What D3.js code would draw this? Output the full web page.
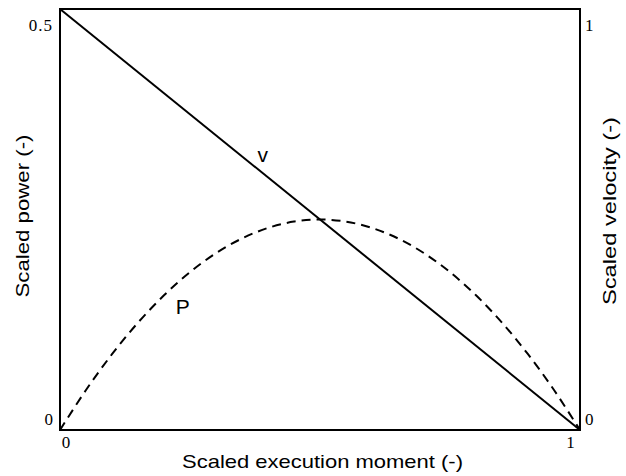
<!DOCTYPE html>
<html>
<head>
<meta charset="utf-8">
<script src="https://cdn.jsdelivr.net/npm/d3@7"></script>
<style>
  html, body { margin: 0; padding: 0; background: #fff; }
  svg { display: block; }
</style>
</head>
<body>
<svg id="chart" width="626" height="476"></svg>
<script>
// Scaled execution moment (x) samples and the scaled power along them
const moment = [0, 0.05, 0.1, 0.15, 0.2, 0.25, 0.3, 0.35, 0.4, 0.45, 0.5,
                0.55, 0.6, 0.65, 0.7, 0.75, 0.8, 0.85, 0.9, 0.95, 1];
const power = [0, 0.0475, 0.09, 0.1275, 0.16, 0.1875, 0.21, 0.2275, 0.24, 0.2475, 0.25,
               0.2475, 0.24, 0.2275, 0.21, 0.1875, 0.16, 0.1275, 0.09, 0.0475, 0];
// Scaled velocity falls linearly from 1 to 0
const velMoment = [0, 1];
const velocity = [1, 0];

// Axis ticks
const xTicks = [0, 1];
const powerTicks = [0, 0.5];
const velocityTicks = [0, 1];

// Curve labels: [moment, value]
const vLabel = { text: "v", m: 0.39, val: 0.655 };
const pLabel = { text: "P", m: 0.236, val: 0.147 };

const svg = d3.select("#chart");
const L = 60, R = 580, T = 9, B = 430;

const x = d3.scaleLinear().domain([0, 1]).range([L, R]);
const yP = d3.scaleLinear().domain([0, 0.5]).range([B, T]);
const yV = d3.scaleLinear().domain([0, 1]).range([B, T]);

const tickFont = "'Liberation Serif', 'Times New Roman', serif";
const sansFont = "'Liberation Sans', Arial, sans-serif";

// Frame
svg.append("rect")
  .attr("x", L).attr("y", T).attr("width", R - L).attr("height", B - T)
  .attr("fill", "none").attr("stroke", "#000").attr("stroke-width", 2);

function styleAxis(g) {
  g.select(".domain").remove();
  g.selectAll(".tick line").remove();
  g.selectAll("text")
    .attr("font-family", tickFont)
    .attr("font-size", 17)
    .attr("fill", "#000");
}

// Bottom axis
svg.append("g")
  .attr("transform", `translate(0,${B})`)
  .call(d3.axisBottom(x).tickValues(xTicks).tickSize(0).tickPadding(0).tickFormat(d3.format("d")))
  .call(styleAxis)
  .call(g => g.selectAll("text")
    .attr("dy", null).attr("y", 18)
    .attr("dx", d => d === 0 ? 5.5 : -10));

// Left axis (power)
svg.append("g")
  .attr("transform", `translate(${L},0)`)
  .call(d3.axisLeft(yP).tickValues(powerTicks).tickSize(0).tickPadding(7)
    .tickFormat(d => d === 0 ? "0" : "0.5"))
  .call(styleAxis)
  .call(g => g.selectAll("text")
    .attr("dy", null)
    .attr("y", d => d === 0 ? -6 : 21)
    .attr("letter-spacing", d => d === 0 ? null : 1));

// Right axis (velocity)
svg.append("g")
  .attr("transform", `translate(${R},0)`)
  .call(d3.axisRight(yV).tickValues(velocityTicks).tickSize(0).tickPadding(5).tickFormat(d3.format("d")))
  .call(styleAxis)
  .call(g => g.selectAll("text")
    .attr("dy", null)
    .attr("y", d => d === 0 ? -6 : 21));

// Power curve (dashed)
const pLine = d3.line()
  .x((d, i) => x(moment[i]))
  .y(d => yP(d))
  .curve(d3.curveCatmullRom);
svg.append("path")
  .datum(power)
  .attr("d", pLine)
  .attr("fill", "none")
  .attr("stroke", "#000")
  .attr("stroke-width", 2)
  .attr("stroke-dasharray", "9,6");

// Velocity line (solid)
const vLine = d3.line()
  .x((d, i) => x(velMoment[i]))
  .y(d => yV(d));
svg.append("path")
  .datum(velocity)
  .attr("d", vLine)
  .attr("fill", "none")
  .attr("stroke", "#000")
  .attr("stroke-width", 2);

// Curve labels
svg.append("text")
  .attr("x", x(vLabel.m)).attr("y", yV(vLabel.val))
  .attr("text-anchor", "middle").attr("dominant-baseline", "central")
  .attr("font-family", sansFont).attr("font-size", 21)
  .text(vLabel.text);
svg.append("text")
  .attr("x", x(pLabel.m)).attr("y", yP(pLabel.val))
  .attr("text-anchor", "middle").attr("dominant-baseline", "central")
  .attr("font-family", sansFont).attr("font-size", 21)
  .text(pLabel.text);

// Axis titles
svg.append("text")
  .attr("x", 322.5).attr("y", 468)
  .attr("text-anchor", "middle")
  .attr("font-family", sansFont).attr("font-size", 19)
  .attr("textLength", 281).attr("lengthAdjust", "spacingAndGlyphs")
  .text("Scaled execution moment (-)");
svg.append("text")
  .attr("transform", "translate(29,216) rotate(-90)")
  .attr("text-anchor", "middle")
  .attr("font-family", sansFont).attr("font-size", 19)
  .attr("textLength", 163).attr("lengthAdjust", "spacingAndGlyphs")
  .text("Scaled power (-)");
svg.append("text")
  .attr("transform", "translate(616,211) rotate(-90)")
  .attr("text-anchor", "middle")
  .attr("font-family", sansFont).attr("font-size", 19)
  .attr("textLength", 188).attr("lengthAdjust", "spacingAndGlyphs")
  .text("Scaled velocity (-)");
</script>
</body>
</html>
